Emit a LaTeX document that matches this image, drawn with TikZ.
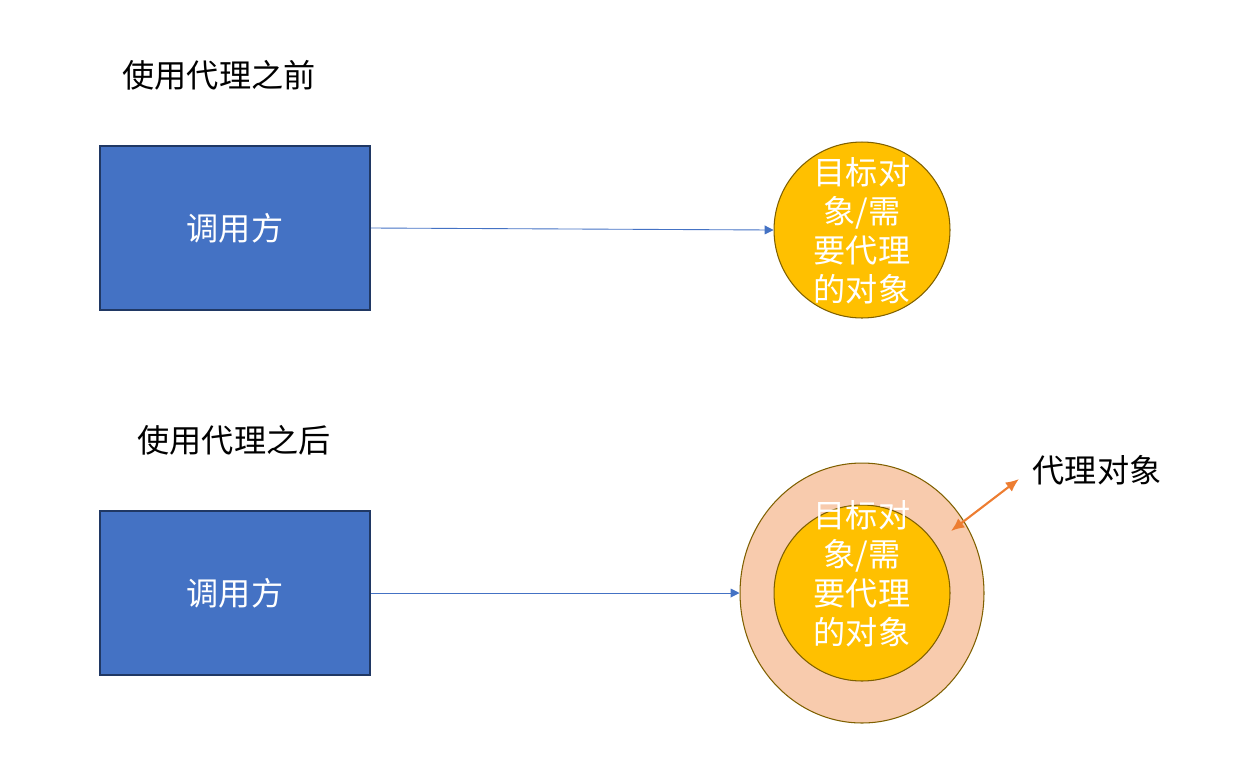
\documentclass[tikz,border=0pt]{standalone}
\usepackage{fontspec}
\setmainfont{Noto Sans CJK SC}
\usepackage{tikz}
\usetikzlibrary{arrows.meta,shapes.geometric}

\definecolor{boxblue}{HTML}{4472C4}
\definecolor{boxline}{HTML}{203864}
\definecolor{gold}{HTML}{FFC000}
\definecolor{goldline}{HTML}{7F6000}
\definecolor{peach}{HTML}{F8CBAD}
\definecolor{orange}{HTML}{ED7D31}

\tikzset{
  caller/.style={draw=boxline, line width=0.9pt, fill=boxblue, text=white,
    minimum width=5.4cm, minimum height=3.28cm, font=\fontsize{18.3}{22}\selectfont},
  target/.style={circle, draw=goldline, line width=0.6pt, fill=gold,
    minimum size=3.52cm, inner sep=0pt},
  proxy/.style={ellipse, draw=goldline, line width=0.6pt, fill=peach,
    minimum width=4.88cm, minimum height=5.2cm, inner sep=0pt},
  words/.style={text=white, align=center, font=\fontsize{18.3}{22.2}\selectfont},
  title/.style={font=\fontsize{18.3}{22}\selectfont},
  call/.style={draw=boxblue, line width=0.5pt, -{Triangle[length=5pt,width=5pt]}}
}

\begin{document}
\begin{tikzpicture}[x=0.02cm, y=-0.02cm]

\useasboundingbox (0,0) rectangle (1236,775);

% Before
\node[title] (before) at (219,75) {使用代理之前};
\node[caller] (caller1) at (235,228) {调用方};
\node[target] (target1) at (862,230) {};
\node[words] (text1) at (862,230.5) {目标对\\象/需\\要代理\\的对象};
\draw[call] (caller1.east) -- (target1.west);

% After
\node[title] (after) at (234,440) {使用代理之后};
\node[caller] (caller2) at (235,593) {调用方};
\node[proxy] (proxy) at (862,593) {};
\node[target] (target2) at (862,593) {};
\node[words] (text2) at (862,574) {目标对\\象/需\\要代理\\的对象};
\draw[call] (caller2.east) -- (proxy.west);

% Proxy label
\node[title] (proxylabel) at (1097,470) {代理对象};
\coordinate (ring) at (951,531);
\coordinate (tip) at (1019,479);
\draw[orange, line width=1.2pt, {Latex[length=7.5pt,width=6.5pt]}-{Latex[length=7.5pt,width=6.5pt]}] (ring) -- (tip);

\end{tikzpicture}
\end{document}
